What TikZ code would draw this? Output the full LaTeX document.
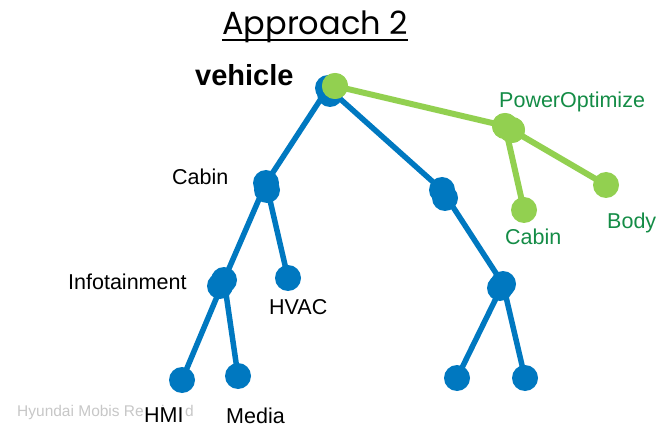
\documentclass[tikz,border=0pt]{standalone}
\usepackage{fontspec}
\setmainfont{Liberation Sans}
\newfontfamily\titlefont{Poppins}
\usetikzlibrary{backgrounds}
\definecolor{treeblue}{RGB}{0,120,192}
\definecolor{treegreen}{RGB}{146,208,80}
\definecolor{labelgreen}{RGB}{20,140,70}
\tikzset{
  bdot/.style={circle,fill=treeblue,minimum size=26pt,inner sep=0pt},
  gdot/.style={circle,fill=treegreen,minimum size=26pt,inner sep=0pt},
  bedge/.style={draw=treeblue,line width=5.5pt},
  gedge/.style={draw=treegreen,line width=6pt},
  lbl/.style={anchor=base west,inner sep=0pt,font=\fontsize{21.5}{24}\selectfont},
  glbl/.style={lbl,text=labelgreen},
}
\begin{document}
\begin{tikzpicture}[x=1pt,y=-1pt]
\useasboundingbox (0,0) rectangle (658,430);

% title
\node[anchor=base west,inner sep=0pt,font=\titlefont\fontsize{32}{36}\selectfont] (title) at (222,35) {Approach 2};
\draw[line width=2pt] (title.base west) ++(0,5) coordinate (ul1) -- (ul1 -| title.base east);

% watermark
\node[anchor=base west,inner sep=0pt,text=black!22,font=\fontsize{15.5}{17}\selectfont] (mark) at (17,416) {Hyundai Mobis Restricted};

% blue tree
\node[bdot] (rootB) at (330,94) {};
\node[bdot] (root) at (328,88) {};
\node[bdot] (cabinB) at (267,190) {};
\node[bdot] (cabin) at (266,183) {};
\node[bdot] (midB) at (445,198) {};
\node[bdot] (mid) at (442,190) {};
\node[bdot] (infoB) at (220,286) {};
\node[bdot] (info) at (224,280) {};
\node[bdot] (hvac) at (288,278) {};
\node[bdot] (hmi) at (182,380) {};
\node[bdot] (media) at (238,376) {};
\node[bdot] (lowB) at (500,288) {};
\node[bdot] (low) at (503,284) {};
\node[bdot] (bl) at (457,378) {};
\node[bdot] (br) at (525,378) {};

% green tree
\node[gdot] (groot) at (335,86) {};
\node[gdot] (po) at (505,126) {};
\node[gdot] (poB) at (512,130) {};
\node[gdot] (gcabin) at (524,210) {};
\node[gdot] (body) at (606,185) {};

\begin{scope}[on background layer]
  \path[bedge] (root.center) -- (cabin.center);
  \path[bedge] (root.center) -- (mid.center);
  \path[bedge] (cabin.center) -- (info.center);
  \path[bedge] (cabin.center) -- (hvac.center);
  \path[bedge] (info.center) -- (hmi.center);
  \path[bedge] (info.center) -- (media.center);
  \path[bedge] (mid.center) -- (low.center);
  \path[bedge] (low.center) -- (bl.center);
  \path[bedge] (low.center) -- (br.center);
\end{scope}
\path[gedge] (groot.center) -- (po.center);
\path[gedge] (po.center) -- (gcabin.center);
\path[gedge] (po.center) -- (body.center);
\node[gdot] at (groot) {};
\node[gdot] at (po) {};
\node[gdot] at (poB) {};

% labels
\node[lbl,font=\bfseries\fontsize{29}{32}\selectfont] (tvehicle) at (195,86) {vehicle};
\node[lbl] (tcabin) at (172,185) {Cabin};
\node[lbl] (tinfo) at (68,289) {Infotainment};
\node[lbl] (thvac) at (269,314) {HVAC};
\node[lbl,fill=white,inner sep=1pt] (thmi) at (143,422) {HMI};
\node[lbl] (tmedia) at (226,423) {Media};
\node[glbl] (tpo) at (499,108) {PowerOptimize};
\node[glbl] (tgcabin) at (505,245) {Cabin};
\node[glbl] (tbody) at (607,229) {Body};
\end{tikzpicture}
\end{document}
